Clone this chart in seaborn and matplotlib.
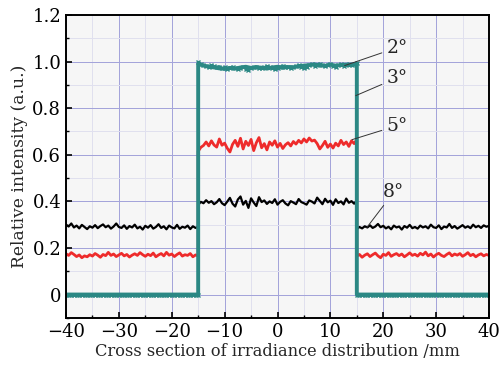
import numpy as np
import pandas as pd
import seaborn as sns
import matplotlib
matplotlib.use('Agg')
import matplotlib.pyplot as plt
from matplotlib.ticker import MultipleLocator, FixedLocator, FuncFormatter

# relative intensity, 0.5 mm steps
# outside segments: -40..-15 and 15..40, inside: -15..15
b_left = [0.300, 0.292, 0.305, 0.288, 0.296, 0.284, 0.299, 0.290, 0.281, 0.293, 0.287, 0.298, 0.285,
          0.294, 0.301, 0.289, 0.296, 0.283, 0.292, 0.305, 0.290, 0.286, 0.297, 0.282, 0.294, 0.288,
          0.300, 0.284, 0.291, 0.279, 0.295, 0.287, 0.298, 0.283, 0.290, 0.302, 0.286, 0.293, 0.280,
          0.296, 0.288, 0.284, 0.299, 0.282, 0.291, 0.287, 0.296, 0.281, 0.293, 0.286, 0.290]
b_mid = [0.385, 0.398, 0.392, 0.405, 0.394, 0.401, 0.388, 0.396, 0.410, 0.392, 0.384, 0.399, 0.415,
         0.390, 0.378, 0.408, 0.421, 0.386, 0.402, 0.372, 0.413, 0.395, 0.380, 0.418, 0.397, 0.404,
         0.389, 0.400, 0.393, 0.409, 0.386, 0.398, 0.405, 0.391, 0.383, 0.401, 0.395, 0.388, 0.410,
         0.397, 0.392, 0.386, 0.404, 0.399, 0.391, 0.416, 0.402, 0.388, 0.411, 0.396, 0.403, 0.385,
         0.409, 0.393, 0.400, 0.387, 0.412, 0.394, 0.401, 0.390, 0.404]
b_right = [0.282, 0.290, 0.284, 0.293, 0.288, 0.297, 0.286, 0.292, 0.303, 0.289, 0.295, 0.284, 0.291,
           0.280, 0.296, 0.288, 0.292, 0.279, 0.294, 0.287, 0.299, 0.285, 0.290, 0.283, 0.296, 0.288,
           0.293, 0.284, 0.300, 0.289, 0.286, 0.297, 0.281, 0.292, 0.288, 0.303, 0.286, 0.294, 0.283,
           0.290, 0.298, 0.287, 0.293, 0.285, 0.300, 0.289, 0.295, 0.286, 0.297, 0.291, 0.295]

r_left = [0.175, 0.168, 0.180, 0.172, 0.163, 0.170, 0.158, 0.166, 0.162, 0.171, 0.165, 0.176, 0.169,
          0.160, 0.172, 0.167, 0.181, 0.168, 0.174, 0.163, 0.170, 0.177, 0.166, 0.172, 0.161, 0.169,
          0.175, 0.168, 0.180, 0.171, 0.164, 0.173, 0.167, 0.178, 0.162, 0.170, 0.176, 0.166, 0.181,
          0.169, 0.174, 0.163, 0.172, 0.179, 0.165, 0.171, 0.168, 0.176, 0.162, 0.170, 0.166]
r_mid = [0.615, 0.632, 0.640, 0.655, 0.638, 0.660, 0.642, 0.633, 0.668, 0.641, 0.650, 0.628, 0.612,
         0.645, 0.662, 0.636, 0.671, 0.625, 0.658, 0.640, 0.666, 0.618, 0.652, 0.674, 0.630, 0.648,
         0.621, 0.655, 0.641, 0.660, 0.633, 0.649, 0.627, 0.643, 0.652, 0.638, 0.657, 0.646, 0.662,
         0.651, 0.668, 0.655, 0.672, 0.659, 0.663, 0.648, 0.625, 0.640, 0.658, 0.632, 0.646, 0.629,
         0.650, 0.638, 0.662, 0.644, 0.655, 0.636, 0.660, 0.648, 0.665]
r_right = [0.165, 0.172, 0.160, 0.169, 0.175, 0.163, 0.171, 0.178, 0.166, 0.158, 0.173, 0.168, 0.180,
           0.164, 0.171, 0.176, 0.167, 0.174, 0.162, 0.170, 0.179, 0.168, 0.173, 0.165, 0.177, 0.170,
           0.182, 0.166, 0.174, 0.161, 0.171, 0.177, 0.168, 0.163, 0.172, 0.179, 0.166, 0.174, 0.169,
           0.176, 0.164, 0.171, 0.180, 0.167, 0.173, 0.162, 0.170, 0.175, 0.166, 0.172, 0.168]

g2_side = [0.0] * 51
g2_mid = [0.998, 0.990, 0.985, 0.982, 0.978, 0.984, 0.980, 0.976, 0.979, 0.972, 0.975, 0.970, 0.974,
          0.978, 0.973, 0.968, 0.971, 0.976, 0.970, 0.966, 0.972, 0.975, 0.979, 0.974, 0.971, 0.976,
          0.980, 0.977, 0.973, 0.969, 0.974, 0.978, 0.982, 0.979, 0.975, 0.971, 0.976, 0.980, 0.984,
          0.978, 0.974, 0.979, 0.985, 0.988, 0.983, 0.987, 0.991, 0.984, 0.980, 0.986, 0.990, 0.983,
          0.979, 0.984, 0.988, 0.982, 0.986, 0.991, 0.985, 0.989, 0.995]
# 3 deg, 1 mm steps
g3_side = [0.0] * 26
g3_mid = [0.992, 0.983, 0.978, 0.975, 0.971, 0.969, 0.973, 0.970, 0.975, 0.978, 0.973, 0.976, 0.974,
          0.970, 0.975, 0.978, 0.974, 0.977, 0.976, 0.980, 0.983, 0.985, 0.988, 0.984, 0.982, 0.987,
          0.983, 0.985, 0.987, 0.984, 0.990]

labels = ['2°', '3°', '5°', '8°']
# (text position, arrow point) in data units
label_pos = [(20.6, 1.06), (20.6, 0.93), (20.6, 0.725), (20.0, 0.44)]
arrow_pts = [(12.7, 0.983), (14.8, 0.854), (14.1, 0.665), (16.9, 0.288)]

x_minor = [-35, -25, -15, -5, 5, 15, 25, 35]
y_minor = [-0.1, 0.1, 0.3, 0.5, 0.7, 0.9, 1.1]


def build(left, mid, right):
    x = np.concatenate([np.linspace(-40, -15, len(left)),
                        np.linspace(-15, 15, len(mid)),
                        np.linspace(15, 40, len(right))])
    y = np.concatenate([left, mid, right])
    return pd.DataFrame({'x': x, 'y': y})


df8 = build(b_left, b_mid, b_right)
df5 = build(r_left, r_mid, r_right)
df3 = build(g3_side, g3_mid, g3_side)
df2 = build(g2_side, g2_mid, g2_side)

sns.set_theme(style='whitegrid')
plt.rcParams['font.family'] = ['DejaVu Serif']
plt.rcParams['mathtext.fontset'] = 'dejavuserif'

teal = '#2b8884'

fig = plt.figure(figsize=(5, 3.67), dpi=100)
ax = fig.add_axes([0.132, 0.134, 0.846, 0.825])
ax.set_facecolor('#f6f6f6')

sns.lineplot(data=df8, x='x', y='y', color='black', lw=1.6, sort=False, estimator=None, ax=ax)
sns.lineplot(data=df5, x='x', y='y', color='#ee2b2b', lw=2.0, sort=False, estimator=None, ax=ax)
sns.lineplot(data=df3, x='x', y='y', color=teal, lw=2.8, sort=False, estimator=None, ax=ax)
sns.lineplot(data=df2, x='x', y='y', color=teal, lw=1.8, marker='x', markersize=3.5,
             markeredgewidth=1.0, markeredgecolor=teal, sort=False, estimator=None, ax=ax)

for lab, (tx, ty), (px, py) in zip(labels, label_pos, arrow_pts):
    ax.annotate(lab, xy=(px, py), xytext=(tx, ty), fontsize=13.5, va='center', ha='left',
                arrowprops=dict(arrowstyle='-', color='#333333', lw=0.7, shrinkA=1, shrinkB=0))

ax.set_xlim(-40, 40)
ax.set_ylim(-0.1, 1.2)
ax.xaxis.set_major_locator(MultipleLocator(10))
ax.xaxis.set_minor_locator(FixedLocator(x_minor))
ax.yaxis.set_major_locator(MultipleLocator(0.2))
ax.yaxis.set_minor_locator(FixedLocator(y_minor))
ax.yaxis.set_major_formatter(FuncFormatter(lambda v, p: '0' if abs(v) < 1e-9 else f'{v:.1f}'))

ax.grid(which='major', color='#a4a4da', lw=0.72, snap=True)
ax.grid(which='minor', color='#e0e0ee', lw=0.72, snap=True)
ax.set_axisbelow(True)
ax.tick_params(which='both', direction='in', colors='black', labelsize=13,
               bottom=True, left=True, top=False, right=False)
ax.tick_params(which='major', length=4, width=1.2)
ax.tick_params(which='minor', length=2.5, width=1.0)
for s in ax.spines.values():
    s.set_color('black')
    s.set_linewidth(1.4)

ax.set_xlabel('Cross section of irradiance distribution /mm', fontsize=11.7, labelpad=2)
ax.set_ylabel('Relative intensity (a.u.)', fontsize=12.3, labelpad=3)

fig.savefig('out.png', dpi=100, facecolor='white')
